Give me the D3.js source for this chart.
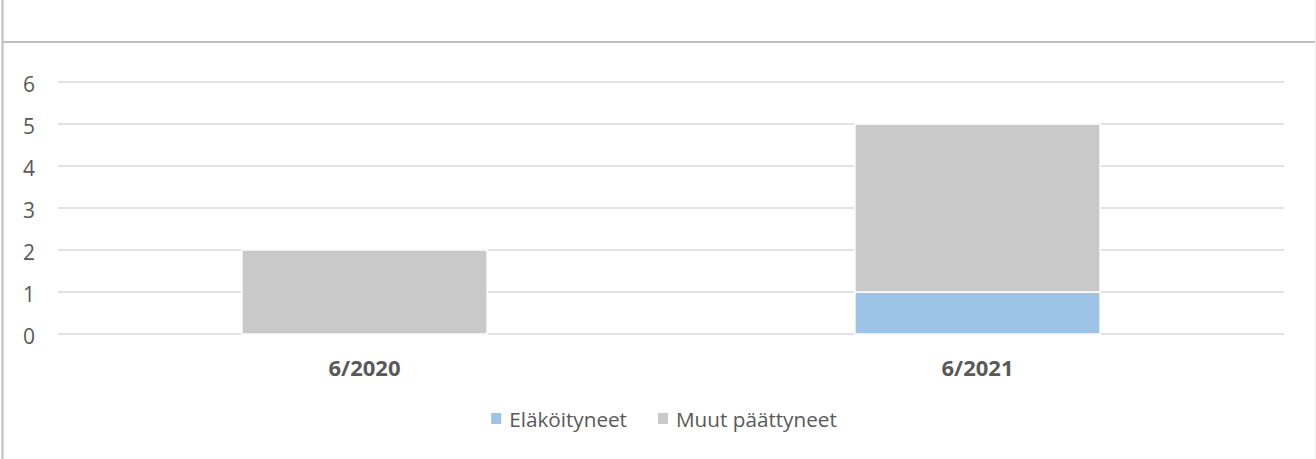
<!DOCTYPE html>
<html>
<head>
<meta charset="utf-8">
<script src="https://cdn.jsdelivr.net/npm/d3@7"></script>
<style>
  body { margin: 0; background: #fff; }
  svg { display: block; font-family: "Open Sans", "Noto Sans", sans-serif; }
</style>
</head>
<body>
<svg></svg>
<script>
const width = 1316;
const height = 459;

const categories = ['6/2020', '6/2021'];
const seriesNames = ['Eläköityneet', 'Muut päättyneet'];
const elakoityneet = [0, 1];
const muutPaattyneet = [2, 4];
const yTicks = [0, 1, 2, 3, 4, 5, 6];
const colors = ['#9dc3e6', '#c9c9c9'];

const plotLeft = 58;
const plotRight = 1284;
const plotTop = 82;
const plotBottom = 334;

window.onload = () => {
  const svg = d3.select('svg')
      .attr('width', width)
      .attr('height', height);

  // outer frame
  svg.append('line')
      .attr('x1', 2.5).attr('x2', 2.5)
      .attr('y1', 0).attr('y2', height)
      .attr('stroke', '#bfbfbf').attr('stroke-width', 2);
  svg.append('line')
      .attr('x1', 2).attr('x2', width)
      .attr('y1', 42).attr('y2', 42)
      .attr('stroke', '#bfbfbf').attr('stroke-width', 2);
  svg.append('line')
      .attr('x1', 1315.5).attr('x2', 1315.5)
      .attr('y1', 0).attr('y2', height)
      .attr('stroke', '#f0f0f0').attr('stroke-width', 1);

  const x = d3.scaleBand()
      .domain(categories)
      .range([plotLeft, plotRight])
      .paddingInner(0.6)
      .paddingOuter(0.3);

  const y = d3.scaleLinear()
      .domain([0, 6])
      .range([plotBottom, plotTop]);

  // gridlines
  svg.append('g')
    .selectAll('line')
    .data(yTicks)
    .join('line')
      .attr('x1', plotLeft)
      .attr('x2', plotRight)
      .attr('y1', d => y(d))
      .attr('y2', d => y(d))
      .attr('stroke', '#d9d9d9')
      .attr('stroke-width', 1.5);

  // y labels
  svg.append('g')
    .selectAll('text')
    .data(yTicks)
    .join('text')
      .attr('x', 29)
      .attr('y', d => y(d) + 10)
      .attr('text-anchor', 'middle')
      .attr('font-size', 21)
      .attr('fill', '#595959')
      .text(d => d);

  // stacked bars
  const rows = categories.map((c, i) => ({
    cat: c,
    [seriesNames[0]]: elakoityneet[i],
    [seriesNames[1]]: muutPaattyneet[i]
  }));
  const stacked = d3.stack().keys(seriesNames)(rows);

  svg.append('g')
    .selectAll('g')
    .data(stacked)
    .join('g')
      .attr('fill', (d, i) => colors[i])
    .selectAll('rect')
    .data(d => d.filter(p => p[1] - p[0] > 0))
    .join('rect')
      .attr('x', d => x(d.data.cat))
      .attr('width', x.bandwidth())
      .attr('y', d => y(d[1]))
      .attr('height', d => y(d[0]) - y(d[1]))
      .attr('stroke', '#ffffff')
      .attr('stroke-width', 1.5);

  // category labels
  svg.append('g')
    .selectAll('text')
    .data(categories)
    .join('text')
      .attr('x', d => x(d) + x.bandwidth() / 2)
      .attr('y', 376)
      .attr('text-anchor', 'middle')
      .attr('font-size', 22)
      .attr('font-weight', 'bold')
      .attr('fill', '#595959')
      .text(d => d);

  // legend
  const items = svg.append('g')
    .selectAll('g')
    .data(seriesNames)
    .join('g');
  items.append('rect')
      .attr('y', 413)
      .attr('width', 10)
      .attr('height', 11)
      .attr('fill', (d, i) => colors[i]);
  items.append('text')
      .attr('y', 427)
      .attr('font-size', 20.7)
      .attr('fill', '#595959')
      .text(d => d);

  const widths = [];
  items.each(function () {
    widths.push(d3.select(this).select('text').node().getComputedTextLength());
  });
  const total = d3.sum(widths) + widths.length * 18 + (widths.length - 1) * 31;
  let cursor = 664 - total / 2;
  items.each(function (d, i) {
    const g = d3.select(this);
    g.select('rect').attr('x', cursor);
    g.select('text').attr('x', cursor + 18);
    cursor += 18 + widths[i] + 31;
  });
};
</script>
</body>
</html>
